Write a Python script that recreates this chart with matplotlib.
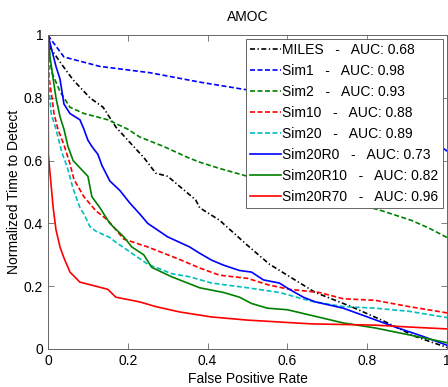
import numpy as np
import matplotlib
matplotlib.use("Agg")
from matplotlib import pyplot as plt
from matplotlib.ticker import FormatStrFormatter

plt.rcParams['font.family'] = ['Liberation Sans', 'DejaVu Sans']
plt.rcParams['font.size'] = 10

# curves (false positive rate, normalized time)
miles_x = [0, 0.005, 0.038, 0.063, 0.105, 0.138, 0.17, 0.2, 0.24, 0.27, 0.30, 0.37, 0.38, 0.43, 0.50, 0.555, 0.67, 0.76, 0.84, 0.92, 1.0]
miles_y = [1, 0.96, 0.90, 0.857, 0.80, 0.77, 0.707, 0.665, 0.61, 0.56, 0.55, 0.475, 0.45, 0.41, 0.33, 0.27, 0.18, 0.135, 0.09, 0.04, 0.005]

sim1_x = [0, 0.005, 0.04, 0.13, 0.255, 0.38, 0.50, 0.6, 0.7, 0.8, 0.9, 0.97, 1.0]
sim1_y = [1, 0.99, 0.93, 0.90, 0.88, 0.85, 0.825, 0.80, 0.77, 0.74, 0.70, 0.66, 0.63]

sim2_x = [0, 0.005, 0.01, 0.03, 0.055, 0.09, 0.15, 0.20, 0.23, 0.29, 0.35, 0.38, 0.43, 0.50, 0.6, 0.7, 0.83, 0.91, 0.955, 1.0]
sim2_y = [1, 0.92, 0.88, 0.82, 0.77, 0.75, 0.73, 0.70, 0.675, 0.645, 0.61, 0.595, 0.575, 0.55, 0.52, 0.485, 0.443, 0.41, 0.385, 0.355]

sim10_x = [0, 0.003, 0.01, 0.015, 0.025, 0.04, 0.055, 0.065, 0.09, 0.12, 0.15, 0.19, 0.25, 0.33, 0.38, 0.43, 0.5, 0.55, 0.605, 0.68, 0.74, 0.82, 0.905, 1.0]
sim10_y = [1, 0.86, 0.80, 0.75, 0.70, 0.65, 0.59, 0.54, 0.485, 0.44, 0.41, 0.35, 0.325, 0.285, 0.258, 0.235, 0.225, 0.205, 0.19, 0.18, 0.16, 0.155, 0.135, 0.115]

sim20_x = [0, 0.003, 0.008, 0.02, 0.035, 0.048, 0.063, 0.08, 0.09, 0.105, 0.12, 0.155, 0.17, 0.21, 0.25, 0.31, 0.355, 0.41, 0.5, 0.58, 0.66, 0.74, 0.82, 0.905, 1.0]
sim20_y = [1, 0.82, 0.75, 0.70, 0.625, 0.58, 0.51, 0.45, 0.43, 0.39, 0.375, 0.355, 0.34, 0.305, 0.27, 0.24, 0.23, 0.21, 0.195, 0.18, 0.152, 0.135, 0.13, 0.12, 0.10]

sim20r0_x = [0, 0.005, 0.02, 0.03, 0.04, 0.055, 0.08, 0.09, 0.1, 0.11, 0.125, 0.135, 0.155, 0.18, 0.205, 0.23, 0.25, 0.30, 0.355, 0.38, 0.41, 0.44, 0.48, 0.51, 0.54, 0.58, 0.605, 0.64, 0.67, 0.74, 0.805, 0.87, 0.94, 1.0]
sim20r0_y = [1, 0.975, 0.90, 0.86, 0.78, 0.75, 0.73, 0.70, 0.665, 0.645, 0.62, 0.585, 0.535, 0.505, 0.465, 0.43, 0.40, 0.357, 0.325, 0.305, 0.283, 0.267, 0.25, 0.245, 0.22, 0.21, 0.19, 0.165, 0.15, 0.13, 0.10, 0.07, 0.04, 0.012]

sim20r10_x = [0, 0.005, 0.013, 0.02, 0.03, 0.04, 0.05, 0.063, 0.1, 0.11, 0.13, 0.155, 0.19, 0.21, 0.24, 0.26, 0.31, 0.35, 0.38, 0.44, 0.48, 0.51, 0.55, 0.6, 0.65, 0.74, 0.82, 0.905, 1.0]
sim20r10_y = [1, 0.93, 0.86, 0.80, 0.74, 0.70, 0.645, 0.60, 0.55, 0.485, 0.45, 0.40, 0.357, 0.325, 0.30, 0.26, 0.23, 0.21, 0.195, 0.18, 0.165, 0.145, 0.13, 0.125, 0.11, 0.083, 0.067, 0.045, 0.02]

sim20r70_x = [0, 0.001, 0.005, 0.013, 0.02, 0.03, 0.04, 0.055, 0.08, 0.15, 0.17, 0.23, 0.27, 0.33, 0.41, 0.5, 0.58, 0.66, 0.82, 0.905, 1.0]
sim20r70_y = [1, 0.62, 0.56, 0.45, 0.38, 0.325, 0.29, 0.245, 0.213, 0.19, 0.165, 0.15, 0.135, 0.118, 0.102, 0.092, 0.086, 0.08, 0.076, 0.07, 0.064]

names = ['MILES', 'Sim1', 'Sim2', 'Sim10', 'Sim20', 'Sim20R0', 'Sim20R10', 'Sim20R70']
aucs = ['0.68', '0.98', '0.93', '0.88', '0.89', '0.73', '0.82', '0.96']

curves = [(miles_x, miles_y, 'k', '-.'),
          (sim1_x, sim1_y, 'b', '--'),
          (sim2_x, sim2_y, (0, 0.5, 0), '--'),
          (sim10_x, sim10_y, 'r', '--'),
          (sim20_x, sim20_y, (0, 0.75, 0.75), '--'),
          (sim20r0_x, sim20r0_y, 'b', '-'),
          (sim20r10_x, sim20r10_y, (0, 0.5, 0), '-'),
          (sim20r70_x, sim20r70_y, 'r', '-')]

fig = plt.figure(figsize=(4.48, 3.87), dpi=100)
ax = fig.add_axes([48/448, 1 - 349/387, 399/448, 314/387])

for (x, y, c, ls), n, a in zip(curves, names, aucs):
    if ls == '--':
        dash = (3, 1.5)
    elif ls == '-.':
        dash = (3, 1.5, 0.8, 1.5)
    else:
        dash = None
    line, = ax.plot(x, y, color=c, lw=1.2, label=n + '   -   AUC: ' + a)
    if dash:
        line.set_dashes(dash)

ax.set_xlim(0, 1)
ax.set_ylim(0, 1)
ax.set_xticks(np.arange(0, 1.01, 0.2))
ax.set_yticks(np.arange(0, 1.01, 0.2))
ax.xaxis.set_major_formatter(FormatStrFormatter('%g'))
ax.yaxis.set_major_formatter(FormatStrFormatter('%g'))
ax.tick_params(direction='in', top=True, right=True, length=4, width=0.6, color='0.4', labelsize=10)
for s in ax.spines.values():
    s.set_color('0.4')
    s.set_linewidth(0.7)

ax.set_title('AMOC', fontsize=10, pad=10)
ax.set_xlabel('False Positive Rate', labelpad=3)
ax.set_ylabel('Normalized Time to Detect', labelpad=2)

leg = ax.legend(loc='upper right', fancybox=False, framealpha=1, edgecolor='0.4',
                borderaxespad=0.3, borderpad=0.3, handlelength=2.2, handletextpad=0.1,
                labelspacing=0.5)
leg.get_frame().set_linewidth(0.7)

fig.savefig('out.png', dpi=100)
